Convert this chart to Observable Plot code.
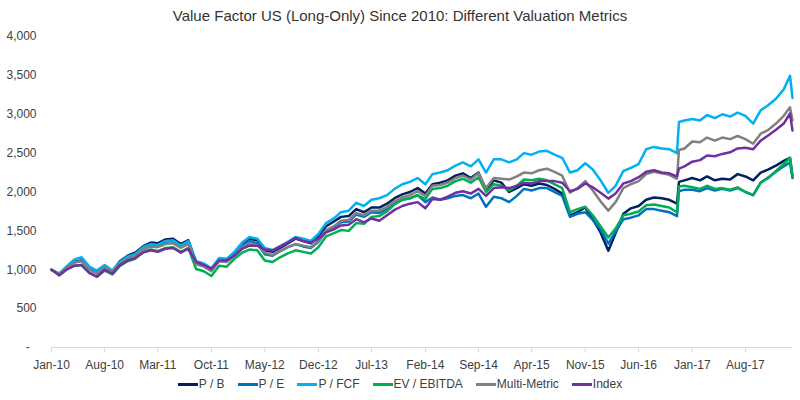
<!DOCTYPE html>
<html><head><meta charset="utf-8">
<script src="https://cdn.jsdelivr.net/npm/d3@7"></script>
<script src="https://cdn.jsdelivr.net/npm/@observablehq/plot@0.6"></script>
<style>
body{margin:0;background:#fff;font-family:"Liberation Sans",Arial,sans-serif;}
#wrap{width:800px;height:400px;position:relative;overflow:hidden;background:#fff}
#title{position:absolute;top:0;left:0;width:800px;text-align:center;font-size:15px;color:#333;line-height:32px;height:32px}
#chart{position:absolute;top:30px;left:0}
#legend{position:absolute;top:375px;left:0;width:800px;display:flex;justify-content:center;font-size:12px;color:#404040;line-height:18px}
.item{display:flex;align-items:center;margin:0 6.5px}
.sw{width:20px;height:3px;margin-right:1px}
</style>
</head><body>
<div id="wrap">
  <div id="title">Value Factor US (Long-Only) Since 2010: Different Valuation Metrics</div>
  <div id="chart"></div>
  <div id="legend"></div>
</div>
<script>
// Observation dates (month starts, plus a few event points)
const dates = [
  "2010-01-01","2010-02-01","2010-03-01","2010-04-01","2010-05-01","2010-06-01","2010-07-01","2010-08-01","2010-09-01","2010-10-01","2010-11-01","2010-12-01",
  "2011-01-01","2011-02-01","2011-03-01","2011-04-01","2011-05-01","2011-06-01","2011-07-01","2011-08-01","2011-09-01","2011-10-01","2011-11-01","2011-12-01",
  "2012-01-01","2012-02-01","2012-03-01","2012-04-01","2012-05-01","2012-06-01","2012-07-01","2012-08-01","2012-09-01","2012-10-01","2012-11-01","2012-12-01",
  "2013-01-01","2013-02-01","2013-03-01","2013-04-01","2013-05-01","2013-06-01","2013-07-01","2013-08-01","2013-09-01","2013-10-01","2013-11-01","2013-12-01",
  "2014-01-01","2014-02-01","2014-03-01","2014-04-01","2014-05-01","2014-06-01","2014-07-01","2014-08-01","2014-09-01","2014-10-01","2014-11-01","2014-12-01",
  "2015-01-01","2015-02-01","2015-03-01","2015-04-01","2015-05-01","2015-06-01","2015-07-01","2015-08-01","2015-09-01","2015-10-01","2015-11-01","2015-12-01",
  "2016-01-01","2016-02-01","2016-03-01","2016-04-01","2016-05-01","2016-06-01","2016-07-01","2016-08-01","2016-09-01","2016-10-01","2016-11-01","2016-11-09","2016-12-01",
  "2017-01-01","2017-02-01","2017-03-01","2017-04-01","2017-05-01","2017-06-01","2017-07-01","2017-08-01","2017-09-01","2017-10-01","2017-11-01","2017-12-01",
  "2018-01-01","2018-01-26","2018-02-05"
];

const seriesNames = ["P / B","P / E","P / FCF","EV / EBITDA","Multi-Metric","Index"];
const seriesColors = ["#002060","#0070C0","#00B0F0","#00B050","#808080","#7030A0"];

const pb = [
  1000,945,1030,1100,1120,1010,960,1040,980,1110,1180,1220,
  1300,1350,1340,1390,1400,1330,1380,1100,1070,1010,1140,1130,
  1220,1330,1400,1380,1250,1230,1280,1340,1400,1370,1340,1430,
  1560,1620,1680,1690,1780,1740,1800,1800,1850,1920,1970,2000,
  2050,1980,2100,2120,2150,2210,2240,2180,2250,2020,2150,2120,
  2000,2050,2100,2080,2110,2090,2040,1980,1700,1740,1800,1650,
  1480,1245,1470,1720,1790,1820,1900,1930,1920,1900,1850,2130,2150,
  2180,2150,2200,2150,2170,2160,2230,2200,2150,2250,2290,2340,
  2400,2440,2200
];
const pe = [
  1000,945,1030,1100,1120,1010,960,1040,980,1090,1160,1200,
  1280,1320,1310,1360,1370,1300,1360,1090,1060,1000,1130,1120,
  1200,1310,1370,1340,1200,1180,1240,1290,1330,1300,1280,1360,
  1500,1550,1610,1620,1710,1680,1740,1730,1780,1850,1900,1920,
  1960,1870,1930,1900,1920,1950,1960,1920,1980,1810,1940,1920,
  1870,1950,2040,2020,2050,2050,2000,1950,1680,1720,1740,1640,
  1520,1335,1490,1650,1670,1700,1780,1780,1760,1740,1690,2010,2030,
  2030,2010,2050,2020,2040,2020,2050,2000,1960,2120,2190,2260,
  2330,2380,2180
];
const pfcf = [
  1000,950,1040,1130,1160,1040,990,1060,990,1100,1170,1200,
  1290,1330,1320,1370,1380,1310,1370,1110,1080,1020,1150,1140,
  1230,1350,1420,1400,1280,1250,1300,1360,1420,1400,1370,1460,
  1600,1660,1740,1760,1860,1820,1900,1920,1960,2040,2100,2130,
  2180,2100,2230,2250,2280,2340,2380,2330,2420,2250,2420,2420,
  2380,2420,2500,2480,2520,2530,2480,2440,2250,2280,2370,2290,
  2150,1990,2080,2270,2310,2360,2550,2580,2560,2550,2500,2900,2920,
  2940,2920,2990,2950,3000,2970,3020,2980,2880,3050,3120,3200,
  3320,3495,3210
];
const evEbitda = [
  1000,930,1000,1050,1060,960,910,990,940,1050,1110,1140,
  1230,1260,1240,1280,1290,1230,1280,1010,980,920,1050,1040,
  1140,1220,1260,1250,1120,1100,1160,1210,1250,1230,1210,1290,
  1430,1470,1510,1500,1600,1590,1680,1690,1750,1840,1900,1920,
  1960,1910,2040,2050,2080,2140,2170,2120,2190,2000,2100,2080,
  2020,2080,2160,2150,2170,2150,2100,2050,1740,1780,1810,1700,
  1560,1415,1530,1700,1720,1750,1830,1840,1820,1800,1740,2070,2080,
  2060,2040,2080,2040,2050,2030,2060,2000,1960,2120,2180,2270,
  2360,2440,2200
];
const multiMetric = [
  1000,945,1020,1090,1110,1000,950,1030,970,1080,1140,1180,
  1260,1300,1290,1330,1340,1280,1330,1070,1040,980,1110,1100,
  1180,1290,1340,1320,1220,1190,1240,1290,1330,1310,1290,1370,
  1510,1560,1630,1640,1730,1700,1760,1760,1810,1880,1930,1960,
  2010,1950,2080,2090,2120,2180,2210,2160,2240,2050,2180,2170,
  2160,2200,2250,2240,2280,2300,2260,2210,1990,2050,2140,2020,
  1880,1760,1870,2050,2100,2140,2230,2260,2240,2220,2170,2540,2560,
  2650,2640,2700,2660,2700,2680,2720,2680,2620,2750,2800,2880,
  2980,3090,2920
];
const indexSeries = [
  1000,930,1000,1050,1060,960,910,1000,950,1060,1120,1150,
  1220,1250,1230,1270,1280,1220,1270,1100,1060,1010,1120,1120,
  1180,1270,1310,1310,1260,1250,1300,1350,1410,1370,1350,1400,
  1480,1520,1570,1580,1650,1610,1660,1630,1700,1770,1820,1850,
  1870,1790,1910,1900,1940,1990,2010,1980,2040,1950,2050,2060,
  2050,2080,2120,2110,2140,2140,2140,2120,2010,2040,2110,2060,
  1990,1915,1980,2110,2140,2190,2260,2280,2250,2240,2200,2300,2330,
  2390,2410,2470,2460,2490,2510,2560,2570,2550,2660,2730,2800,
  2880,3010,2790
];

const xTickLabels = ["Jan-10","Aug-10","Mar-11","Oct-11","May-12","Dec-12","Jul-13","Feb-14","Sep-14","Apr-15","Nov-15","Jun-16","Jan-17","Aug-17"];
const yTicks = [0,500,1000,1500,2000,2500,3000,3500,4000];

const allSeries = [pb, pe, pfcf, evEbitda, multiMetric, indexSeries];
const parseDay = d3.utcParse("%Y-%m-%d");
const parseTick = d3.utcParse("%b-%y");
const fmtTick = d3.utcFormat("%b-%y");
const rows = [];
allSeries.forEach((vals, si) => {
  vals.forEach((v, i) => rows.push({date: parseDay(dates[i]), value: v, series: seriesNames[si]}));
});
const xTicks = xTickLabels.map(parseTick);

const chart = Plot.plot({
  width: 800, height: 345,
  marginLeft: 51, marginRight: 8, marginTop: 6, marginBottom: 28,
  style: {fontFamily: "'Liberation Sans', Arial, sans-serif", fontSize: "12px", color: "#404040", background: "white"},
  x: {type: "utc", domain: [parseDay("2010-01-01"), parseDay("2018-02-05")]},
  y: {domain: [0, 4000]},
  color: {domain: seriesNames, range: seriesColors},
  marks: [
    Plot.axisY({ticks: yTicks, tickSize: 0, tickPadding: 15, label: null,
      tickFormat: d => d === 0 ? "-\u00a0\u00a0" : d3.format(",")(d)}),
    Plot.axisX({ticks: xTicks, tickSize: 5, tickPadding: 8, label: null, stroke: "#d9d9d9",
      tickFormat: d => fmtTick(d)}),
    Plot.ruleY([0], {stroke: "#d9d9d9"}),
    Plot.line(rows, {x: "date", y: "value", z: "series", stroke: "series", strokeWidth: 2.5, strokeLinejoin: "round"})
  ]
});
document.getElementById("chart").appendChild(chart);

const legend = document.getElementById("legend");
seriesNames.forEach((name, i) => {
  const item = document.createElement("div");
  item.className = "item";
  const sw = document.createElement("span");
  sw.className = "sw";
  sw.style.background = seriesColors[i];
  const tx = document.createElement("span");
  tx.textContent = name;
  item.appendChild(sw); item.appendChild(tx);
  legend.appendChild(item);
});
</script>
</body></html>
